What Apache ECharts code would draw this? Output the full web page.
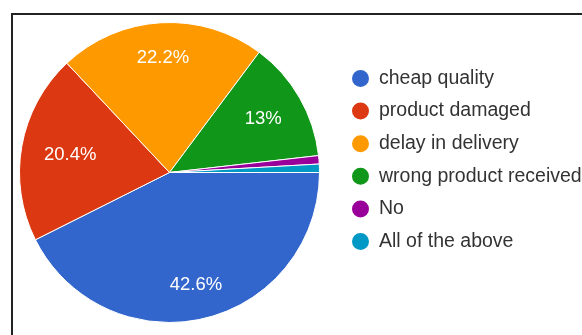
<!DOCTYPE html>
<html>
<head>
<meta charset="utf-8">
<style>
  html, body { margin: 0; padding: 0; background: #fff; }
  #chart { width: 582px; height: 335px; }
</style>
<script src="https://cdn.jsdelivr.net/npm/echarts@6/dist/echarts.min.js"></script>
</head>
<body>
<div id="chart"></div>
<script>
// Reasons given for the complaint (percent of respondents)
const categories = ['cheap quality', 'product damaged', 'delay in delivery', 'wrong product received', 'No', 'All of the above'];
const shares = [42.6, 20.4, 22.2, 13, 0.9, 0.9];
const sliceColors = ['#3366cc', '#dc3912', '#ff9900', '#109618', '#990099', '#0099c6'];
// slices below this share get no value label
const labelMinShare = 5;

const chart = echarts.init(document.getElementById('chart'), null, { renderer: 'canvas' });
const font = '"Liberation Sans", Arial, sans-serif';

const pieData = categories.map((name, i) => ({
  name: name,
  value: shares[i],
  itemStyle: { color: sliceColors[i] }
}));

// small nudges so labels of the narrower/side slices sit a bit further in
const labelNudge = { 'product damaged': [14, 3], 'wrong product received': [-6, 4] };

chart.setOption({
  animation: false,
  color: sliceColors,
  graphic: [{
    type: 'rect',
    shape: { x: 12, y: 14, width: 700, height: 500 },
    style: { fill: 'none', stroke: '#222', lineWidth: 2 },
    silent: true,
    z: 10
  }],
  legend: {
    orient: 'vertical',
    left: 350,
    top: 68,
    padding: 0,
    icon: 'circle',
    itemWidth: 19,
    itemHeight: 19,
    itemGap: 11.6,
    data: categories,
    textStyle: { fontFamily: font, fontSize: 19.5, lineHeight: 19, color: '#333', padding: [0, 0, 0, 4] }
  },
  series: [
    {
      type: 'pie',
      center: [169.5, 172.5],
      radius: 150,
      startAngle: 0,
      clockwise: true,
      silent: true,
      label: { show: false },
      labelLine: { show: false },
      itemStyle: { borderColor: '#fff', borderWidth: 1 },
      data: pieData
    },
    {
      // invisible ring that carries the percentage labels
      type: 'pie',
      center: [169.5, 172.5],
      radius: [74, 150],
      startAngle: 0,
      clockwise: true,
      silent: true,
      itemStyle: { color: 'rgba(0,0,0,0)', borderWidth: 0 },
      labelLine: { show: false },
      label: {
        show: true,
        position: 'inside',
        fontFamily: font,
        fontSize: 18.5,
        color: '#fff',
        formatter: p => (p.value >= labelMinShare ? p.value + '%' : '')
      },
      labelLayout: p => {
        const n = labelNudge[categories[p.dataIndex]];
        return n ? { dx: n[0], dy: n[1] } : {};
      },
      data: categories.map((name, i) => ({ name: name, value: shares[i] }))
    }
  ]
});
</script>
</body>
</html>
